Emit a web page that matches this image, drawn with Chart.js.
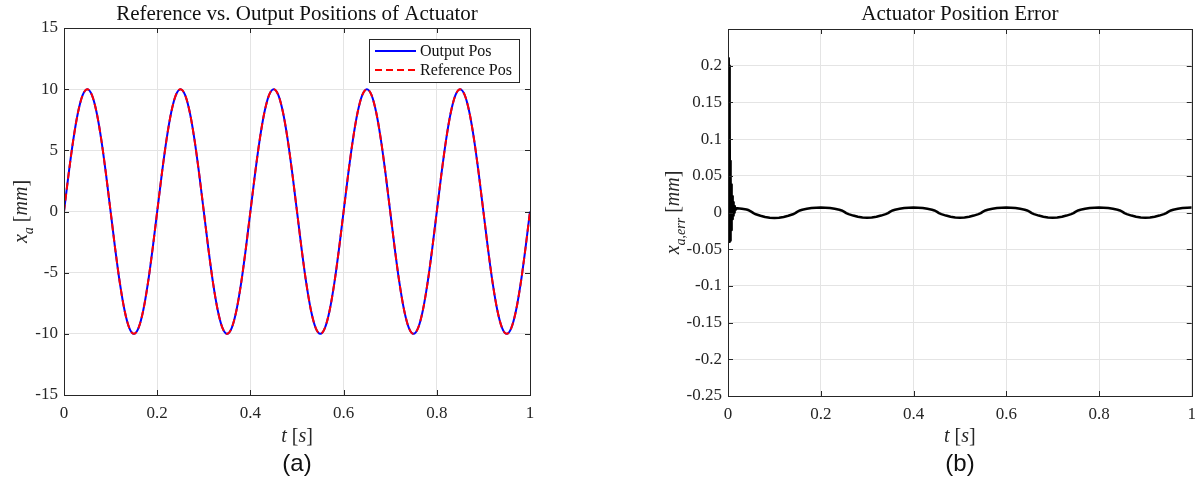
<!DOCTYPE html>
<html>
<head>
<meta charset="utf-8">
<script src="https://cdn.jsdelivr.net/npm/chart.js@4.4.0/dist/chart.umd.min.js"></script>
<style>
  body { margin: 0; background: #fff; width: 1204px; height: 486px; overflow: hidden; position: relative; }
  canvas { position: absolute; top: 0; }
  #posChart { left: 0; }
  #errChart { left: 640px; }
  .tag { position: absolute; top: 449px; font: 24px "Liberation Sans", Arial, sans-serif; color: #111; transform: translateX(-50%); }
</style>
</head>
<body>
<canvas id="posChart" width="560" height="486"></canvas>
<canvas id="errChart" width="564" height="486"></canvas>
<div class="tag" style="left:297px">(a)</div>
<div class="tag" style="left:960px">(b)</div>
<script>
// time base for the position signals [s]
const posTime = [
  0, 0.01, 0.02, 0.03, 0.04, 0.05, 0.06, 0.07, 0.08, 0.09,
  0.1, 0.11, 0.12, 0.13, 0.14, 0.15, 0.16, 0.17, 0.18, 0.19,
  0.2, 0.21, 0.22, 0.23, 0.24, 0.25, 0.26, 0.27, 0.28, 0.29,
  0.3, 0.31, 0.32, 0.33, 0.34, 0.35, 0.36, 0.37, 0.38, 0.39,
  0.4, 0.41, 0.42, 0.43, 0.44, 0.45, 0.46, 0.47, 0.48, 0.49,
  0.5, 0.51, 0.52, 0.53, 0.54, 0.55, 0.56, 0.57, 0.58, 0.59,
  0.6, 0.61, 0.62, 0.63, 0.64, 0.65, 0.66, 0.67, 0.68, 0.69,
  0.7, 0.71, 0.72, 0.73, 0.74, 0.75, 0.76, 0.77, 0.78, 0.79,
  0.8, 0.81, 0.82, 0.83, 0.84, 0.85, 0.86, 0.87, 0.88, 0.89,
  0.9, 0.91, 0.92, 0.93, 0.94, 0.95, 0.96, 0.97, 0.98, 0.99,
  1.0
];

// commanded actuator position [mm]
const refPos = [
  0, 3.09, 5.88, 8.09, 9.51, 10, 9.51, 8.09, 5.88, 3.09,
  0, -3.09, -5.88, -8.09, -9.51, -10, -9.51, -8.09, -5.88, -3.09,
  0, 3.09, 5.88, 8.09, 9.51, 10, 9.51, 8.09, 5.88, 3.09,
  0, -3.09, -5.88, -8.09, -9.51, -10, -9.51, -8.09, -5.88, -3.09,
  0, 3.09, 5.88, 8.09, 9.51, 10, 9.51, 8.09, 5.88, 3.09,
  0, -3.09, -5.88, -8.09, -9.51, -10, -9.51, -8.09, -5.88, -3.09,
  0, 3.09, 5.88, 8.09, 9.51, 10, 9.51, 8.09, 5.88, 3.09,
  0, -3.09, -5.88, -8.09, -9.51, -10, -9.51, -8.09, -5.88, -3.09,
  0, 3.09, 5.88, 8.09, 9.51, 10, 9.51, 8.09, 5.88, 3.09,
  0, -3.09, -5.88, -8.09, -9.51, -10, -9.51, -8.09, -5.88, -3.09,
  0
];

// measured actuator position [mm]
const outPos = [
  0, 3.10, 5.88, 8.09, 9.51, 10, 9.51, 8.09, 5.88, 3.09,
  0, -3.09, -5.88, -8.09, -9.51, -10, -9.51, -8.09, -5.88, -3.09,
  0, 3.09, 5.88, 8.09, 9.51, 10, 9.51, 8.09, 5.88, 3.09,
  0, -3.09, -5.88, -8.09, -9.51, -10, -9.51, -8.09, -5.88, -3.09,
  0, 3.09, 5.88, 8.09, 9.51, 10, 9.51, 8.09, 5.88, 3.09,
  0, -3.09, -5.88, -8.09, -9.51, -10, -9.51, -8.09, -5.88, -3.09,
  0, 3.09, 5.88, 8.09, 9.51, 10, 9.51, 8.09, 5.88, 3.09,
  0, -3.09, -5.88, -8.09, -9.51, -10, -9.51, -8.09, -5.88, -3.09,
  0, 3.09, 5.88, 8.09, 9.51, 10, 9.51, 8.09, 5.88, 3.09,
  0, -3.09, -5.88, -8.09, -9.51, -10, -9.51, -8.09, -5.88, -3.09,
  0
];

// tracking error: start-up transient then the steady ripple
const errTime = [
  0, 0.001, 0.002, 0.0025, 0.003, 0.0035, 0.004, 0.0045,
  0.005, 0.0055, 0.006, 0.0065, 0.007, 0.0075, 0.008, 0.0085, 0.009, 0.0095,
  0.01, 0.0105, 0.011, 0.0115, 0.012, 0.0125, 0.013, 0.0135, 0.014, 0.0145,
  0.015, 0.016, 0.017, 0.018, 0.02,
  0.03, 0.04, 0.045, 0.05, 0.055, 0.06, 0.07, 0.08, 0.09, 0.1, 0.11, 0.12, 0.13, 0.14, 0.145, 0.15, 0.155, 0.16, 0.17, 0.18, 0.19, 0.2,
  0.21, 0.22, 0.23, 0.24, 0.245, 0.25, 0.255, 0.26, 0.27, 0.28, 0.29, 0.3, 0.31, 0.32, 0.33, 0.34, 0.345, 0.35, 0.355, 0.36, 0.37, 0.38, 0.39, 0.4,
  0.41, 0.42, 0.43, 0.44, 0.445, 0.45, 0.455, 0.46, 0.47, 0.48, 0.49, 0.5, 0.51, 0.52, 0.53, 0.54, 0.545, 0.55, 0.555, 0.56, 0.57, 0.58, 0.59, 0.6,
  0.61, 0.62, 0.63, 0.64, 0.645, 0.65, 0.655, 0.66, 0.67, 0.68, 0.69, 0.7, 0.71, 0.72, 0.73, 0.74, 0.745, 0.75, 0.755, 0.76, 0.77, 0.78, 0.79, 0.8,
  0.81, 0.82, 0.83, 0.84, 0.845, 0.85, 0.855, 0.86, 0.87, 0.88, 0.89, 0.9, 0.91, 0.92, 0.93, 0.94, 0.945, 0.95, 0.955, 0.96, 0.97, 0.98, 0.99, 1.0
];
const errVal = [
  0, 0.06, 0.21, -0.03, 0.2, -0.04, 0.12, -0.038,
  0.07, -0.03, 0.05, -0.024, 0.038, -0.018, 0.03, -0.013, 0.022, -0.009,
  0.017, -0.006, 0.014, -0.004, 0.011, -0.002, 0.009, 0.0, 0.008, 0.002,
  0.007, 0.004, 0.0062, 0.005, 0.0058,
  0.0052, 0.0041, 0.003, 0.0012, -0.0008, -0.0024, -0.0045, -0.0062, -0.0072, -0.0076, -0.0072, -0.0062, -0.0045, -0.0024, -0.0008, 0.0012, 0.0028, 0.0038, 0.005, 0.006, 0.0066, 0.0068,
  0.0066, 0.006, 0.005, 0.0038, 0.0028, 0.0012, -0.0008, -0.0022, -0.0042, -0.0058, -0.0068, -0.0072, -0.0068, -0.0058, -0.0042, -0.0022, -0.0008, 0.0012, 0.0028, 0.0038, 0.005, 0.006, 0.0066, 0.0068,
  0.0066, 0.006, 0.005, 0.0038, 0.0028, 0.0012, -0.0008, -0.0022, -0.0042, -0.0058, -0.0068, -0.0072, -0.0068, -0.0058, -0.0042, -0.0022, -0.0008, 0.0012, 0.0028, 0.0038, 0.005, 0.006, 0.0066, 0.0068,
  0.0066, 0.006, 0.005, 0.0038, 0.0028, 0.0012, -0.0008, -0.0022, -0.0042, -0.0058, -0.0068, -0.0072, -0.0068, -0.0058, -0.0042, -0.0022, -0.0008, 0.0012, 0.0028, 0.0038, 0.005, 0.006, 0.0066, 0.0068,
  0.0066, 0.006, 0.005, 0.0038, 0.0028, 0.0012, -0.0008, -0.0022, -0.0042, -0.0058, -0.0068, -0.0072, -0.0068, -0.0058, -0.0042, -0.0022, -0.0008, 0.0012, 0.0028, 0.0038, 0.005, 0.006, 0.0066, 0.0068
];

const timeTicks = [0, 0.2, 0.4, 0.6, 0.8, 1];
const SERIF = '"Liberation Serif", "Times New Roman", serif';
const INK = '#262626';

const pts = (xs, ys) => xs.map((x, i) => ({ x: x, y: ys[i] }));
const fmt = (v) => String(Number(v.toFixed(2)));

// text with italic pieces and subscripts, optionally turned for a y label
function drawRich(ctx, parts, x, y, size, vertical) {
  ctx.save();
  ctx.translate(x, y);
  if (vertical) ctx.rotate(-Math.PI / 2);
  const fontOf = (p) => (p.it ? 'italic ' : '') + Math.round(p.sub ? size * 0.72 : size) + 'px ' + SERIF;
  let total = 0;
  parts.forEach((p) => { ctx.font = fontOf(p); p.w = ctx.measureText(p.t).width; total += p.w; });
  let cx = -total / 2;
  ctx.fillStyle = INK;
  ctx.textBaseline = 'alphabetic';
  ctx.textAlign = 'left';
  parts.forEach((p) => {
    ctx.font = fontOf(p);
    ctx.fillText(p.t, cx, p.sub ? size * 0.28 : 0);
    cx += p.w;
  });
  ctx.restore();
}

// closed axes box with inward ticks, title and axis labels
const frame = {
  id: 'frame',
  afterDraw(chart, args, opts) {
    const { ctx, chartArea: a, scales } = chart;
    ctx.save();
    ctx.strokeStyle = INK;
    ctx.lineWidth = 1;
    ctx.beginPath();
    scales.x.ticks.forEach((t) => {
      const px = Math.round(scales.x.getPixelForValue(t.value)) + 0.5;
      ctx.moveTo(px, a.bottom); ctx.lineTo(px, a.bottom - 5);
      ctx.moveTo(px, a.top); ctx.lineTo(px, a.top + 5);
    });
    scales.y.ticks.forEach((t) => {
      const py = Math.round(scales.y.getPixelForValue(t.value)) + 0.5;
      ctx.moveTo(a.left, py); ctx.lineTo(a.left + 5, py);
      ctx.moveTo(a.right, py); ctx.lineTo(a.right - 5, py);
    });
    ctx.stroke();
    ctx.strokeRect(Math.round(a.left) + 0.5, Math.round(a.top) + 0.5,
      Math.round(a.right - a.left), Math.round(a.bottom - a.top));

    const mid = (a.left + a.right) / 2;
    ctx.fillStyle = '#111';
    ctx.font = '21px ' + SERIF;
    ctx.textAlign = 'center';
    ctx.textBaseline = 'alphabetic';
    ctx.fillText(opts.title, mid, 20);
    ctx.restore();

    drawRich(ctx, [{ t: 't', it: true }, { t: ' [' }, { t: 's', it: true }, { t: ']' }], mid, 442, 20, false);
    drawRich(ctx, opts.ylabel, opts.ylabelX, (a.top + a.bottom) / 2, 20, true);

    if (opts.legend) {
      const L = opts.legend;
      ctx.save();
      ctx.fillStyle = '#fff';
      ctx.fillRect(L.x, L.y, L.w, L.h);
      ctx.strokeStyle = INK;
      ctx.lineWidth = 1;
      ctx.strokeRect(L.x + 0.5, L.y + 0.5, L.w, L.h);
      ctx.font = '16px ' + SERIF;
      ctx.textBaseline = 'middle';
      ctx.textAlign = 'left';
      chart.data.datasets.forEach((ds, i) => {
        const ly = L.y + 12 + i * 19;
        ctx.strokeStyle = ds.borderColor;
        ctx.lineWidth = 2;
        ctx.setLineDash(ds.borderDash || []);
        ctx.beginPath();
        ctx.moveTo(L.x + 6, ly); ctx.lineTo(L.x + 47, ly);
        ctx.stroke();
        ctx.setLineDash([]);
        ctx.fillStyle = '#111';
        ctx.fillText(ds.label, L.x + 51, ly + 1);
      });
      ctx.restore();
    }
  }
};

function axes(ymin, ymax, ystep, yWidth, xHeight, hideTop) {
  return {
    x: {
      type: 'linear', min: 0, max: 1,
      afterBuildTicks: (s) => { s.ticks = timeTicks.map((v) => ({ value: v })); },
      afterFit: (s) => { s.height = xHeight; },
      grid: { color: '#e4e4e4', drawTicks: false },
      border: { display: false },
      ticks: { padding: 8, color: INK, font: { family: SERIF, size: 17 }, maxRotation: 0, callback: fmt }
    },
    y: {
      min: ymin, max: ymax,
      afterFit: (s) => { s.width = yWidth; },
      grid: { color: '#e4e4e4', drawTicks: false },
      border: { display: false },
      ticks: {
        stepSize: ystep, padding: 6, color: INK, font: { family: SERIF, size: 17 },
        callback: (v) => (hideTop && Math.abs(v - ymax) < 1e-9 ? '' : fmt(v))
      }
    }
  };
}

new Chart(document.getElementById('posChart'), {
  type: 'line',
  data: {
    datasets: [
      { label: 'Output Pos', data: pts(posTime, outPos), borderColor: '#0000ff', borderWidth: 2,
        pointRadius: 0, cubicInterpolationMode: 'monotone', order: 2 },
      { label: 'Reference Pos', data: pts(posTime, refPos), borderColor: '#ff0000', borderWidth: 2,
        borderDash: [7, 4], pointRadius: 0, cubicInterpolationMode: 'monotone', order: 1 }
    ]
  },
  options: {
    responsive: false, devicePixelRatio: 1, animation: false,
    layout: { padding: { left: 0, right: 30, top: 28, bottom: 0 } },
    scales: axes(-15, 15, 5, 64, 91, false),
    plugins: {
      legend: { display: false }, tooltip: { enabled: false },
      frame: {
        title: 'Reference vs. Output Positions of Actuator',
        ylabel: [{ t: 'x', it: true }, { t: 'a', it: true, sub: true }, { t: ' [' }, { t: 'mm', it: true }, { t: ']' }],
        ylabelX: 27,
        legend: { x: 369, y: 39, w: 150, h: 43 }
      }
    }
  },
  plugins: [frame]
});

new Chart(document.getElementById('errChart'), {
  type: 'line',
  data: {
    datasets: [
      { label: 'Error', data: pts(errTime, errVal), borderColor: '#000000', borderWidth: 2.5,
        pointRadius: 0, tension: 0, borderJoinStyle: 'round' }
    ]
  },
  options: {
    responsive: false, devicePixelRatio: 1, animation: false,
    layout: { padding: { left: 0, right: 11, top: 29, bottom: 0 } },
    scales: axes(-0.25, 0.25, 0.05, 88, 90, true),
    plugins: {
      legend: { display: false }, tooltip: { enabled: false },
      frame: {
        title: 'Actuator Position Error',
        ylabel: [{ t: 'x', it: true }, { t: 'a,err', it: true, sub: true }, { t: ' [' }, { t: 'mm', it: true }, { t: ']' }],
        ylabelX: 39
      }
    }
  },
  plugins: [frame]
});
</script>
</body>
</html>
